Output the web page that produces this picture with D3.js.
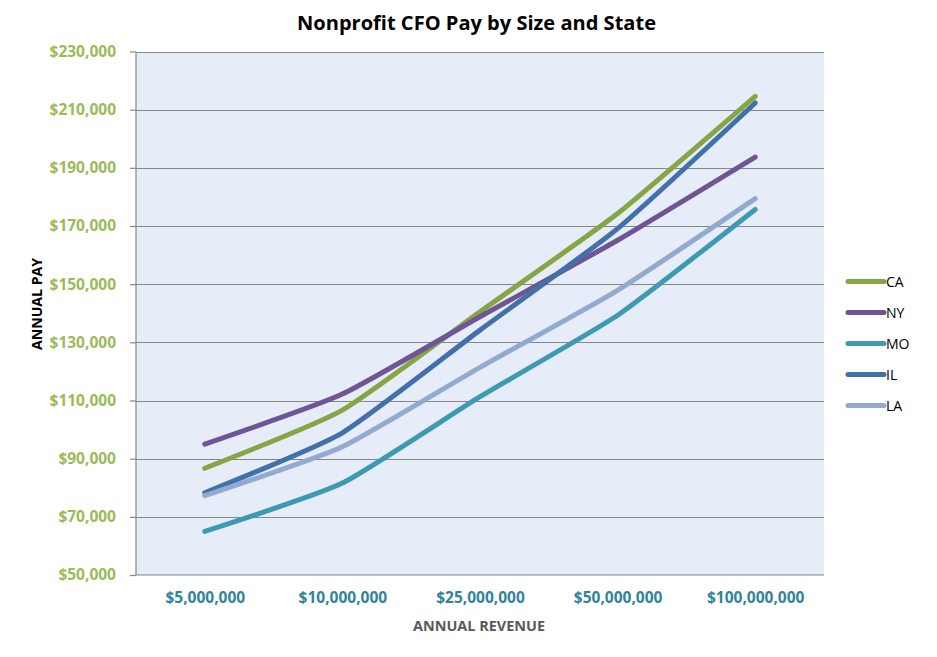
<!DOCTYPE html>
<html>
<head>
<meta charset="utf-8">
<script src="https://cdn.jsdelivr.net/npm/d3@7"></script>
<style>
  html, body { margin: 0; padding: 0; background: #fff; }
  svg { display: block; }
  text { font-family: "Open Sans", "Noto Sans", sans-serif; }
</style>
</head>
<body>
<svg id="chart" width="937" height="657"></svg>
<script>
const categories = ["$5,000,000", "$10,000,000", "$25,000,000", "$50,000,000", "$100,000,000"];
const seriesNames = ["CA", "NY", "MO", "IL", "LA"];
const CA = [86700, 106700, 140500, 174300, 214600];
const NY = [95000, 112200, 138800, 165100, 193700];
const MO = [65000, 81600, 111300, 139300, 175700];
const IL = [78300, 98900, 134200, 169100, 212300];
const LA = [77300, 94100, 121400, 147900, 179400];
const yTicks = [50000, 70000, 90000, 110000, 130000, 150000, 170000, 190000, 210000, 230000];
const colors = ["#86A544", "#6E5596", "#3C9AB2", "#4270AB", "#92A9D0"];

const seriesData = [CA, NY, MO, IL, LA];

const svg = d3.select("#chart");
const plot = { left: 136, right: 824, top: 51.5, bottom: 575 };

const x = d3.scalePoint().domain(categories).range([plot.left, plot.right]).padding(0.5);
const y = d3.scaleLinear().domain([50000, 230000]).range([plot.bottom, plot.top]);

// plot background
svg.append("rect")
  .attr("x", plot.left).attr("y", 52)
  .attr("width", plot.right - plot.left).attr("height", plot.bottom - 52)
  .attr("fill", "#E7EDF8");

// gridlines
svg.append("g").selectAll("line").data(yTicks.slice(1)).join("line")
  .attr("x1", plot.left).attr("x2", plot.right)
  .attr("y1", d => Math.round(y(d)) + 0.5).attr("y2", d => Math.round(y(d)) + 0.5)
  .attr("stroke", "#868686").attr("stroke-width", 1.2);

// y axis
const yAxis = d3.axisLeft(y).tickValues(yTicks).tickSize(6).tickPadding(14)
  .tickFormat(d => "$" + d3.format(",")(d));
const gy = svg.append("g").attr("transform", `translate(${plot.left},0)`).call(yAxis);
gy.select(".domain").attr("stroke", "#868686").attr("stroke-width", 1.2).attr("d", `M0,${52}V${plot.bottom}`);
gy.selectAll(".tick line").attr("stroke", "#868686").attr("stroke-width", 1.2);
gy.selectAll(".tick text")
  .attr("fill", "#9BBB59").attr("font-size", 15.5).attr("font-weight", "bold")
  .attr("font-family", "'Open Sans', sans-serif");

// x axis
const xAxis = d3.axisBottom(x).tickSize(0).tickPadding(17);
const gx = svg.append("g").attr("transform", `translate(0,${plot.bottom})`).call(xAxis);
gx.select(".domain").attr("stroke", "#868686").attr("stroke-width", 1.2).attr("d", `M${plot.left},0H${plot.right}`);
gx.selectAll(".tick text")
  .attr("fill", "#31849B").attr("font-size", 15.5).attr("font-weight", "bold")
  .attr("font-family", "'Open Sans', sans-serif");

// lines
const line = d3.line()
  .x((d, i) => x(categories[i]))
  .y(d => y(d))
  .curve(d3.curveCardinal.tension(0.5));

svg.append("g").selectAll("path").data(seriesData).join("path")
  .attr("d", d => line(d))
  .attr("fill", "none")
  .attr("stroke", (d, i) => colors[i])
  .attr("stroke-width", 5)
  .attr("stroke-linecap", "round")
  .attr("stroke-linejoin", "round");

// title
svg.append("text")
  .attr("x", 476.5).attr("y", 30)
  .attr("text-anchor", "middle")
  .attr("font-size", 20).attr("font-weight", "bold")
  .attr("textLength", 359).attr("lengthAdjust", "spacingAndGlyphs")
  .attr("fill", "#000")
  .text("Nonprofit CFO Pay by Size and State");

// axis titles
svg.append("text")
  .attr("x", 479).attr("y", 631)
  .attr("text-anchor", "middle")
  .attr("font-size", 14).attr("font-weight", "bold")
  .attr("textLength", 132).attr("lengthAdjust", "spacingAndGlyphs")
  .attr("fill", "#595959")
  .text("ANNUAL REVENUE");

svg.append("text")
  .attr("transform", "translate(42,304) rotate(-90)")
  .attr("text-anchor", "middle")
  .attr("font-family", "'Liberation Sans', Arial, sans-serif")
  .attr("font-size", 14).attr("font-weight", "bold")
  .attr("textLength", 92).attr("lengthAdjust", "spacingAndGlyphs")
  .attr("fill", "#000")
  .text("ANNUAL PAY");

// legend
const legend = svg.append("g");
const legY = d3.scalePoint().domain(seriesNames).range([281.5, 405.5]);
const items = legend.selectAll("g").data(seriesNames).join("g")
  .attr("transform", d => `translate(0,${legY(d)})`);
items.append("line")
  .attr("x1", 848).attr("x2", 884).attr("y1", 0).attr("y2", 0)
  .attr("stroke", (d, i) => colors[i]).attr("stroke-width", 5).attr("stroke-linecap", "round");
items.append("text")
  .attr("x", 886).attr("y", 5)
  .attr("font-size", 14).attr("fill", "#000")
  .text(d => d);
</script>
</body>
</html>
